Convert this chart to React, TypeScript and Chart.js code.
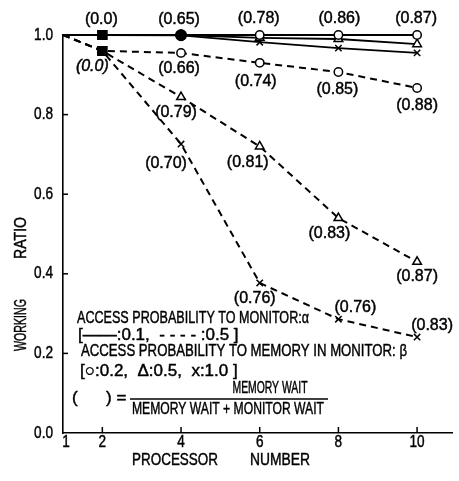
import { useEffect, useRef } from 'react';
import { Chart, registerables } from 'chart.js';

Chart.register(...registerables);

// ---- data ----
const processorNumbers = [1, 2, 4, 6, 8, 10];
const xTickValues = [1, 2, 4, 6, 8, 10];
const yTickValues = [0, 0.2, 0.4, 0.6, 0.8, 1.0];

// alpha = 0.1 (solid)
const solidCircle = [1.0, 1.0, 1.0, 1.0, 1.0, 1.0];
const solidTriangle = [1.0, 1.0, 1.0, 0.993, 0.99, 0.977];
const solidCross = [1.0, 1.0, 0.999, 0.982, 0.967, 0.955];
// alpha = 0.5 (dashed)
const dashedCircle = [1.0, 0.96, 0.955, 0.93, 0.907, 0.867];
const dashedTriangle = [1.0, 0.96, 0.844, 0.72, 0.54, 0.43];
const dashedCross = [1.0, 0.96, 0.726, 0.377, 0.286, 0.241];

// ratio labels  ( ) = memory wait / (memory wait + monitor wait)
const solidLabels = ['', '(0.0)', '(0.65)', '(0.78)', '(0.86)', '(0.87)'];
const dashedCircleLabels = ['', '(0.0)', '(0.66)', '(0.74)', '(0.85)', '(0.88)'];
const dashedTriangleLabels = ['', '', '(0.79)', '(0.81)', '(0.83)', '(0.87)'];
const dashedCrossLabels = ['', '', '(0.70)', '(0.76)', '(0.76)', '(0.83)'];

const yTitleWords = ['WORKING', 'RATIO'];
const xTitleWords = ['PROCESSOR', 'NUMBER'];
const legendLines = [
  'ACCESS PROBABILITY TO MONITOR:\u03b1',
  '[\u2014\u2014:0.1,  - - - - :0.5 ]',
  'ACCESS PROBABILITY TO MEMORY IN MONITOR: \u03b2',
  '[\u25cb:0.2,  \u0394:0.5,  x:1.0 ]',
];
const fractionLeft = '(      ) =';
const fractionTop = 'MEMORY WAIT';
const fractionBottom = 'MEMORY WAIT + MONITOR WAIT';

// ---- styling / placement (not data) ----
const FONT = '"Liberation Sans", Arial, sans-serif';
const solidOffsets = [[0, 0], [-1, -15], [-2, -15], [-1, -16], [1, -16], [-1, -16]];
const dCircleOffsets = [[0, 0], [-10, 16], [-2, 16], [-4, 19], [-1, 18], [0, 18]];
const dTriangleOffsets = [[0, 0], [0, 0], [-5, 16], [-12, 16], [-9, 16], [0, 15]];
const dCrossOffsets = [[0, 0], [0, 0], [-15, 20], [-5, 16], [17, -12], [15, -11]];

type Marker = 'circle' | 'triangle' | 'crossRot';

function makeDataset(values: number[], marker: Marker, dashed: boolean) {
  return {
    data: processorNumbers.map((x, i) => ({ x, y: values[i] })),
    borderColor: '#000',
    borderWidth: dashed ? 2 : 1.8,
    borderDash: dashed ? [7, 5] : [],
    fill: false,
    tension: 0,
    clip: false as const,
    pointStyle: (ctx: any) => {
      const i = ctx.dataIndex;
      if (i === 1) return 'rect';
      if (i === 2 && !dashed) return 'circle';
      return marker;
    },
    pointRadius: (ctx: any) => {
      const i = ctx.dataIndex;
      if (i === 0) return 0;
      if (i === 1) return 6;
      if (i === 2 && !dashed) return 5;
      return marker === 'triangle' ? 5 : marker === 'circle' ? 4.2 : 4.5;
    },
    pointBackgroundColor: (ctx: any) => {
      const i = ctx.dataIndex;
      if (i === 1 || (i === 2 && !dashed)) return '#000';
      return '#fff';
    },
    pointBorderColor: '#000',
    pointBorderWidth: 1.5,
  };
}

type TextOpts = {
  size?: number;
  align?: CanvasTextAlign;
  maxWidth?: number;
  sx?: number;
  italic?: boolean;
};

function drawText(ctx: CanvasRenderingContext2D, text: string, x: number, y: number, o: TextOpts = {}) {
  const size = o.size ?? 16;
  ctx.save();
  ctx.font = `${o.italic ? 'italic ' : ''}${size}px ${FONT}`;
  ctx.textAlign = o.align ?? 'center';
  ctx.textBaseline = 'middle';
  ctx.fillStyle = '#000';
  ctx.strokeStyle = '#000';
  ctx.lineWidth = 0.45;
  ctx.translate(x, y);
  let sx = o.sx ?? 1;
  if (o.maxWidth) {
    const w = ctx.measureText(text).width;
    if (w > o.maxWidth) sx = o.maxWidth / w;
  }
  ctx.scale(sx, 1);
  ctx.fillText(text, 0, 0);
  ctx.strokeText(text, 0, 0);
  ctx.restore();
}

const annotationPlugin = {
  id: 'annotations',
  afterDatasetsDraw(chart: any) {
    const ctx = chart.ctx as CanvasRenderingContext2D;
    const { left, bottom } = chart.chartArea;
    const xs = chart.scales.x;
    const ys = chart.scales.y;
    ctx.save();
    ctx.strokeStyle = '#000';
    ctx.lineWidth = 1.5;
    // inward tick marks + tick labels
    xTickValues.forEach((v, i) => {
      const px = xs.getPixelForValue(v);
      if (v !== 1) {
        ctx.beginPath();
        ctx.moveTo(px, bottom);
        ctx.lineTo(px, bottom - 6);
        ctx.stroke();
      }
      drawText(ctx, String(v), px + (i === 0 ? 3 : 0), bottom + 9, { size: 17, sx: 0.8 });
    });
    yTickValues.forEach((v) => {
      const py = ys.getPixelForValue(v);
      if (v !== 0) {
        ctx.beginPath();
        ctx.moveTo(left, py);
        ctx.lineTo(left + 5, py);
        ctx.stroke();
      }
      drawText(ctx, v.toFixed(1), left - 10, py, { size: 17, sx: 0.8, align: 'right' });
    });

    // point labels
    const groups: [number, string[], number[][]][] = [
      [0, solidLabels, solidOffsets],
      [3, dashedCircleLabels, dCircleOffsets],
      [4, dashedTriangleLabels, dTriangleOffsets],
      [5, dashedCrossLabels, dCrossOffsets],
    ];
    groups.forEach(([di, labels, offs]) => {
      const meta = chart.getDatasetMeta(di);
      labels.forEach((t, i) => {
        if (!t) return;
        const el = meta.data[i];
        drawText(ctx, t, el.x + offs[i][0], el.y + offs[i][1], {
          size: 16,
          maxWidth: 43,
          italic: di === 3 && i === 1,
        });
      });
    });

    // axis titles
    ctx.save();
    ctx.translate(21, 0);
    ctx.rotate(-Math.PI / 2);
    drawText(ctx, yTitleWords[0], -325, 0, { size: 17, maxWidth: 52 });
    drawText(ctx, yTitleWords[1], -238, 0, { size: 17, maxWidth: 42 });
    ctx.restore();
    drawText(ctx, xTitleWords[0], 175, 460, { size: 17, maxWidth: 86 });
    drawText(ctx, xTitleWords[1], 280, 460, { size: 17, maxWidth: 60 });

    // legend block
    drawText(ctx, legendLines[0], 77, 318, { size: 17, align: 'left', maxWidth: 232 });
    drawText(ctx, legendLines[1], 78, 335, { size: 17, align: 'left', maxWidth: 164 });
    drawText(ctx, legendLines[2], 81, 351, { size: 17, align: 'left', maxWidth: 326 });
    drawText(ctx, legendLines[3], 80, 371, { size: 17, align: 'left', maxWidth: 184 });
    drawText(ctx, fractionLeft, 72, 398, { size: 17, align: 'left', maxWidth: 56 });
    drawText(ctx, fractionTop, 270, 388, { size: 17, maxWidth: 75 });
    drawText(ctx, fractionBottom, 228, 409, { size: 17, maxWidth: 192 });
    ctx.lineWidth = 1.4;
    ctx.beginPath();
    ctx.moveTo(130, 399);
    ctx.lineTo(328, 399);
    ctx.stroke();
    ctx.restore();
  },
};

export default function App() {
  const ref = useRef<HTMLCanvasElement | null>(null);
  useEffect(() => {
    document.body.style.margin = '0';
    const canvas = ref.current;
    if (!canvas) return;
    const chart = new Chart(canvas, {
      type: 'line',
      data: {
        datasets: [
          makeDataset(solidCircle, 'circle', false),
          makeDataset(solidTriangle, 'triangle', false),
          makeDataset(solidCross, 'crossRot', false),
          makeDataset(dashedCircle, 'circle', true),
          makeDataset(dashedTriangle, 'triangle', true),
          makeDataset(dashedCross, 'crossRot', true),
        ] as any,
      },
      options: {
        animation: false,
        responsive: false,
        devicePixelRatio: 1,
        layout: { padding: { top: 35, left: 0, right: 0, bottom: 0 } },
        plugins: { legend: { display: false }, tooltip: { enabled: false } },
        scales: {
          x: {
            type: 'linear',
            min: 1,
            max: 10.9,
            afterFit: (s: any) => { s.height = 48; },
            afterBuildTicks: (s: any) => { s.ticks = xTickValues.map((v) => ({ value: v })); },
            ticks: { display: false },
            grid: { display: false, drawTicks: false },
            border: { display: true, color: '#000', width: 1.6 },
          },
          y: {
            type: 'linear',
            min: 0,
            max: 1,
            afterFit: (s: any) => { s.width = 63; },
            afterBuildTicks: (s: any) => { s.ticks = yTickValues.map((v) => ({ value: v })); },
            ticks: { display: false },
            grid: { display: false, drawTicks: false },
            border: { display: true, color: '#000', width: 1.6 },
          },
        },
      } as any,
      plugins: [annotationPlugin],
    });
    return () => chart.destroy();
  }, []);
  return (
    <div style={{ width: 459, height: 481, background: '#fff' }}>
      <canvas ref={ref} width={459} height={481} style={{ display: 'block' }} />
    </div>
  );
}
